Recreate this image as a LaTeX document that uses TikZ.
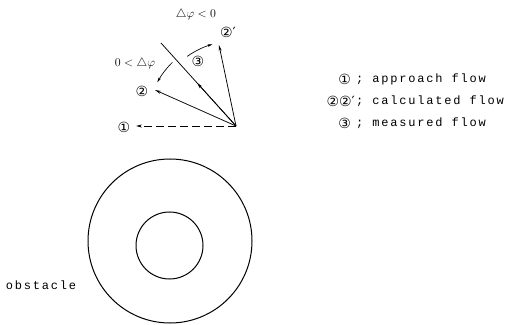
\documentclass[tikz,border=0pt]{standalone}
\usepackage{fontspec}
\usepackage{amsmath}
\usetikzlibrary{arrows.meta,positioning,calc}
\newfontfamily\legfont[LetterSpace=15]{Liberation Mono}
\newfontfamily\circfont{DejaVu Sans}

\begin{document}
\begin{tikzpicture}[x=1pt, y=1pt,
        flow/.style={-{Stealth[length=6pt,width=3pt]}, line width=0.75pt},
        turn/.style={-{Stealth[length=5pt,width=2.6pt]}, line width=0.65pt},
        num/.style={font=\circfont\fontsize{14}{14}\selectfont, inner sep=0pt},
        lab/.style={font=\legfont\fontsize{12}{12}\selectfont, inner sep=0pt},
        angl/.style={font=\fontsize{13}{13}\selectfont, inner sep=0pt},
        ring/.style={draw, line width=1pt}]
    \useasboundingbox (0,0) rectangle (508,324);

    % flow directions
    \coordinate (O) at (236,198);
    \coordinate (tipA) at (136,198);
    \coordinate (tipB) at (155,234);
    \coordinate (tipC) at (219,279);
    \coordinate (endM) at (161,281);

    \node[num] (n1) at (124,197) {①};
    \node[num] (n2) at (142,233) {②};
    \node[num] (n2p) at (228,292) {②′};
    \node[num] (n3) at (198,263) {③};
    \node[angl] (pos) at (135,260) {$0 \mathrel{<} \triangle\varphi$};
    \node[angl] (neg) at (196,309) {$\triangle\varphi \mathrel{<} 0$};

    \draw[flow, dash pattern=on 8pt off 4pt] (O) -- (tipA);
    \draw[flow] (O) -- (tipB);
    \draw[flow] (O) -- (tipC);
    \draw[line width=0.75pt] (O) -- (endM);
    \draw[flow] (O) -- ($(O)!0.52!(endM)$);

    \draw[turn] ($(O)+(135:90)$) arc[start angle=135, end angle=151, radius=90];
    \draw[turn] ($(O)+(125:85)$) arc[start angle=125, end angle=106, radius=85];

    % legend
    \node[lab, anchor=west] (t1) at (356,245) {; approach flow};
    \node[lab, anchor=west] (t2) at (356,223) {; calculated flow};
    \node[lab, anchor=west] (t3) at (356,201) {; measured flow};
    \node[num, left=5pt of t1] (s1) {①};
    \node[num, left=1pt of t2] (s2) {②②′};
    \node[num, left=5pt of t3] (s3) {③};

    % obstacle
    \draw[ring] (170,83) circle[radius=82];
    \draw[ring] (169.5,78.5) circle[radius=33.5];
    \node[lab] (obs) at (41,39) {obstacle};
\end{tikzpicture}
\end{document}
